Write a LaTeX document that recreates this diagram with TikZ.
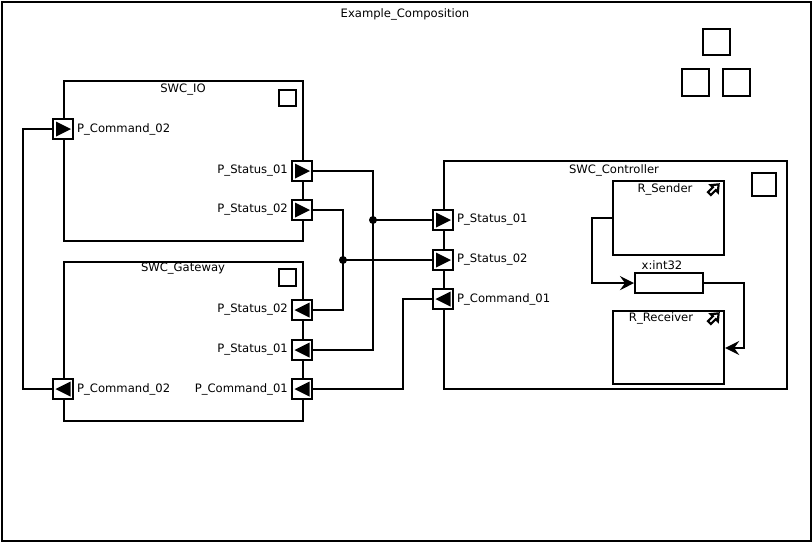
\documentclass[tikz,border=0pt]{standalone}
\usepackage{fontspec}
\setmainfont{DejaVu Sans}
\usetikzlibrary{arrows.meta}
\tikzset{
  lw/.style={line width=2.2pt},
  comp/.style={draw, lw, fill=white, anchor=north west, inner sep=0pt},
  lbl/.style={font=\fontsize{11.6}{13}\selectfont, inner sep=0pt},
  sq/.style={draw, lw, fill=white, inner sep=0pt, anchor=north west},
  portbox/.style={draw, lw, fill=white, minimum size=20pt, inner sep=0pt},
  portR/.style={portbox, path picture={\fill[black] ([xshift=-7pt,yshift=7.5pt]path picture bounding box.center) -- ++(15pt,-7.5pt) -- ++(-15pt,-7.5pt) -- cycle;}},
  portL/.style={portbox, path picture={\fill[black] ([xshift=7.5pt,yshift=7.5pt]path picture bounding box.center) -- ++(-15pt,-7.5pt) -- ++(15pt,-7.5pt) -- cycle;}},
  conn/.style={lw},
  dot/.style={circle, fill=black, inner sep=0pt, minimum size=8pt},
  arr/.style={lw, -{Stealth[length=14pt,width=14pt,inset=5pt]}},
}
\begin{document}
\begin{tikzpicture}[x=1pt,y=-1pt]
\useasboundingbox (0,0) rectangle (812,542);
% outer frame
\node[comp, minimum width=809pt, minimum height=539pt] (frame) at (1,1) {};
\node[lbl] (title) at (405,14) {Example\_Composition};
% top right squares
\node[sq, minimum width=27pt, minimum height=26pt] (s1) at (702,28) {};
\node[sq, minimum width=27pt, minimum height=27pt] (s2) at (681,68) {};
\node[sq, minimum width=27pt, minimum height=27pt] (s3) at (722,68) {};

% SWC_IO
\node[comp, minimum width=239pt, minimum height=160pt] (io) at (63,80) {};
\node[lbl] (io-t) at (183,90) {SWC\_IO};
\node[sq, minimum width=17pt, minimum height=16pt] (io-sq) at (278,89) {};
% SWC_Gateway
\node[comp, minimum width=239pt, minimum height=159pt] (gw) at (63,261) {};
\node[lbl] (gw-t) at (183,269) {SWC\_Gateway};
\node[sq, minimum width=17pt, minimum height=17pt] (gw-sq) at (278,268) {};
% SWC_Controller
\node[comp, minimum width=343pt, minimum height=228pt] (ctl) at (443,160) {};
\node[lbl] (ctl-t) at (614,170) {SWC\_Controller};
\node[sq, minimum width=24pt, minimum height=23pt] (ctl-sq) at (751,172) {};
% inner
\node[comp, minimum width=111pt, minimum height=74pt] (snd) at (612,180) {};
\node[lbl] (snd-t) at (665,189) {R\_Sender};
\node[comp, minimum width=111pt, minimum height=73pt] (rcv) at (612,310) {};
\node[lbl] (rcv-t) at (661,318) {R\_Receiver};
\node[comp, minimum width=68pt, minimum height=20pt] (xv) at (634,272) {};
\node[lbl] (xv-t) at (662,265) {x:int32};
% icons
\foreach \px/\py in {714/189, 714/318}{
  \begin{scope}[shift={(\px,\py)}, rotate=45, line width=2.2pt, line join=miter]
    \draw (-6.5,-2) -- (0.5,-2) -- (0.5,-5) -- (6.5,0) -- (0.5,5) -- (0.5,2) -- (-6.5,2) -- cycle;
  \end{scope}
}

% ports
\node[portR] (io-pc2) at (63,129) {};
\node[lbl, anchor=west] (io-pc2-t) at (77,129) {P\_Command\_02};
\node[portR] (io-ps1) at (302,171) {};
\node[lbl, anchor=east] (io-ps1-t) at (288,171) {P\_Status\_01};
\node[portR] (io-ps2) at (302,210) {};
\node[lbl, anchor=east] (io-ps2-t) at (288,210) {P\_Status\_02};

\node[portL] (gw-ps2) at (302,310) {};
\node[lbl, anchor=east] (gw-ps2-t) at (288,310) {P\_Status\_02};
\node[portL] (gw-ps1) at (302,350) {};
\node[lbl, anchor=east] (gw-ps1-t) at (288,350) {P\_Status\_01};
\node[portL] (gw-pc1) at (302,389) {};
\node[lbl, anchor=east] (gw-pc1-t) at (288,389) {P\_Command\_01};
\node[portL] (gw-pc2) at (63,389) {};
\node[lbl, anchor=west] (gw-pc2-t) at (77,389) {P\_Command\_02};

\node[portR] (ctl-ps1) at (443,220) {};
\node[lbl, anchor=west] (ctl-ps1-t) at (457,220) {P\_Status\_01};
\node[portR] (ctl-ps2) at (443,260) {};
\node[lbl, anchor=west] (ctl-ps2-t) at (457,260) {P\_Status\_02};
\node[portL] (ctl-pc1) at (443,299) {};
\node[lbl, anchor=west] (ctl-pc1-t) at (457,299) {P\_Command\_01};

% connectors
\coordinate (j1) at (373,220);
\coordinate (j2) at (343,260);
\coordinate (k1) at (403,299);
\coordinate (k2) at (23,129);
\draw[conn] (io-ps1.east) -| (j1) |- (gw-ps1.east);
\draw[conn] (j1) -- (ctl-ps1.west);
\draw[conn] (io-ps2.east) -| (j2) |- (gw-ps2.east);
\draw[conn] (j2) -- (ctl-ps2.west);
\draw[conn] (ctl-pc1.west) -- (k1) |- (gw-pc1.east);
\draw[conn] (io-pc2.west) -- (k2) |- (gw-pc2.west);
\node[dot] (d1) at (j1) {};
\node[dot] (d2) at (j2) {};

\coordinate (m1) at (592,218);
\coordinate (m3) at (744,348);
\draw[arr] (m1 -| snd.west) -- (m1) |- (xv.west);
\draw[arr] (xv.east) -| (m3) -- (m3 -| rcv.east);
\end{tikzpicture}
\end{document}
